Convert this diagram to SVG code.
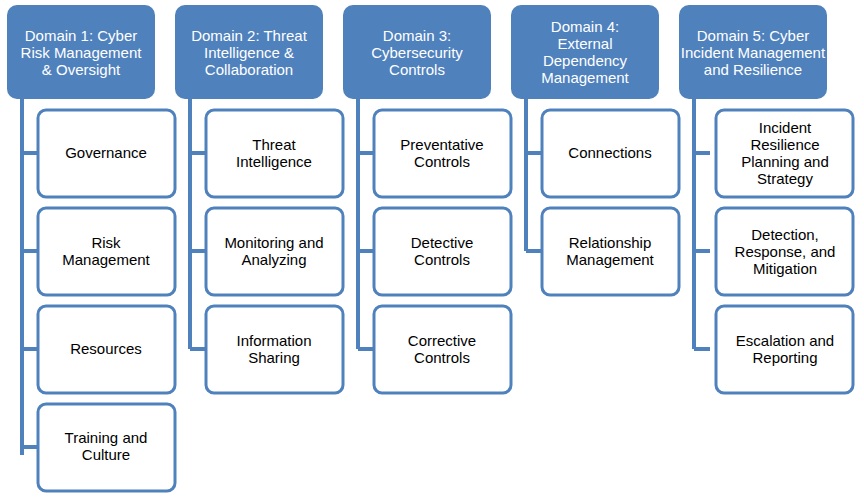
<svg xmlns="http://www.w3.org/2000/svg" width="864" height="500" viewBox="0 0 864 500">
<style>
.h{fill:#4f81bd;stroke:none}
.c{fill:#fff;stroke:#4f81bd;stroke-width:3}
.l{stroke:#4f81bd;stroke-width:4;fill:none}
text{font-family:"Liberation Sans",Arial,sans-serif;font-size:15px;text-anchor:middle}
.ht{fill:#fff}
.ct{fill:#000}
</style>
<rect width="864" height="500" fill="#fff"/>
<g id="connectors">
<path class="l" d="M22 99V455M22 153H38M22 251H38M22 349H38M22 447H38"/>
<path class="l" d="M190 99V349M190 153H206M190 251H206M190 349H206"/>
<path class="l" d="M358 99V349M358 153H374M358 251H374M358 349H374"/>
<path class="l" d="M526 99V251M526 153H542M526 251H542"/>
<path class="l" d="M694 99V349M694 153H710M694 251H710M694 349H710"/>
</g>
<g id="d1"><rect class="h" x="7" y="5" width="148" height="94" rx="10"/><text class="ht" x="81" y="41">Domain 1: Cyber</text><text class="ht" x="81" y="58">Risk Management</text><text class="ht" x="81" y="75">&amp; Oversight</text></g>
<g id="d2"><rect class="h" x="175" y="5" width="148" height="94" rx="10"/><text class="ht" x="249" y="41">Domain 2: Threat</text><text class="ht" x="249" y="58">Intelligence &amp;</text><text class="ht" x="249" y="75">Collaboration</text></g>
<g id="d3"><rect class="h" x="343" y="5" width="148" height="94" rx="10"/><text class="ht" x="417" y="41">Domain 3:</text><text class="ht" x="417" y="58">Cybersecurity</text><text class="ht" x="417" y="75">Controls</text></g>
<g id="d4"><rect class="h" x="511" y="5" width="148" height="94" rx="10"/><text class="ht" x="585" y="32">Domain 4:</text><text class="ht" x="585" y="49">External</text><text class="ht" x="585" y="66">Dependency</text><text class="ht" x="585" y="83">Management</text></g>
<g id="d5"><rect class="h" x="679" y="5" width="148" height="94" rx="10"/><text class="ht" x="753" y="41">Domain 5: Cyber</text><text class="ht" x="753" y="58">Incident Management</text><text class="ht" x="753" y="75">and Resilience</text></g>
<g id="c11"><rect class="c" x="38" y="110" width="137" height="87" rx="8"/><text class="ct" x="106" y="158">Governance</text></g>
<g id="c12"><rect class="c" x="38" y="208" width="137" height="87" rx="8"/><text class="ct" x="106" y="248">Risk</text><text class="ct" x="106" y="265">Management</text></g>
<g id="c13"><rect class="c" x="38" y="306" width="137" height="87" rx="8"/><text class="ct" x="106" y="354">Resources</text></g>
<g id="c14"><rect class="c" x="38" y="404" width="137" height="87" rx="8"/><text class="ct" x="106" y="443">Training and</text><text class="ct" x="106" y="460">Culture</text></g>
<g id="c21"><rect class="c" x="206" y="110" width="137" height="87" rx="8"/><text class="ct" x="274" y="150">Threat</text><text class="ct" x="274" y="167">Intelligence</text></g>
<g id="c22"><rect class="c" x="206" y="208" width="137" height="87" rx="8"/><text class="ct" x="274" y="248">Monitoring and</text><text class="ct" x="274" y="265">Analyzing</text></g>
<g id="c23"><rect class="c" x="206" y="306" width="137" height="87" rx="8"/><text class="ct" x="274" y="346">Information</text><text class="ct" x="274" y="363">Sharing</text></g>
<g id="c31"><rect class="c" x="374" y="110" width="137" height="87" rx="8"/><text class="ct" x="442" y="150">Preventative</text><text class="ct" x="442" y="167">Controls</text></g>
<g id="c32"><rect class="c" x="374" y="208" width="137" height="87" rx="8"/><text class="ct" x="442" y="248">Detective</text><text class="ct" x="442" y="265">Controls</text></g>
<g id="c33"><rect class="c" x="374" y="306" width="137" height="87" rx="8"/><text class="ct" x="442" y="346">Corrective</text><text class="ct" x="442" y="363">Controls</text></g>
<g id="c41"><rect class="c" x="542" y="110" width="137" height="87" rx="8"/><text class="ct" x="610" y="158">Connections</text></g>
<g id="c42"><rect class="c" x="542" y="208" width="137" height="87" rx="8"/><text class="ct" x="610" y="248">Relationship</text><text class="ct" x="610" y="265">Management</text></g>
<g id="c51"><rect class="c" x="716" y="110" width="137" height="87" rx="8"/><text class="ct" x="785" y="133">Incident</text><text class="ct" x="785" y="150">Resilience</text><text class="ct" x="785" y="167">Planning and</text><text class="ct" x="785" y="184">Strategy</text></g>
<g id="c52"><rect class="c" x="716" y="208" width="137" height="87" rx="8"/><text class="ct" x="785" y="240">Detection,</text><text class="ct" x="785" y="257">Response, and</text><text class="ct" x="785" y="274">Mitigation</text></g>
<g id="c53"><rect class="c" x="716" y="306" width="137" height="87" rx="8"/><text class="ct" x="785" y="346">Escalation and</text><text class="ct" x="785" y="363">Reporting</text></g>
</svg>
